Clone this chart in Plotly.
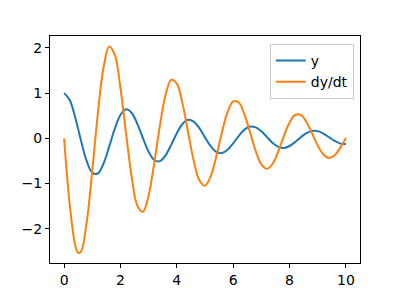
import plotly.graph_objects as go

t = [0.0, 0.2, 0.4, 0.5, 0.6, 0.8, 1.0, 1.2, 1.4, 1.6, 1.8, 2.0, 2.2, 2.4, 2.6, 2.8, 3.0, 3.2, 3.4, 3.6, 3.8,
     4.0, 4.2, 4.4, 4.6, 4.8, 5.0, 5.2, 5.4, 5.6, 5.8, 6.0, 6.2, 6.4, 6.6, 6.8, 7.0, 7.2, 7.4, 7.6, 7.8,
     8.0, 8.2, 8.4, 8.6, 8.8, 9.0, 9.2, 9.4, 9.6, 9.8, 10.0]
y_vals = [1.0, 0.848, 0.450, 0.204, -0.051, -0.498, -0.762, -0.777, -0.556, -0.184, 0.214, 0.517, 0.641,
          0.561, 0.320, 0.000, -0.295, -0.479, -0.504, -0.376, -0.145, 0.113, 0.317, 0.409, 0.371,
          0.224, 0.021, -0.172, -0.300, -0.326, -0.253, -0.109, 0.057, 0.193, 0.260, 0.244, 0.156,
          0.027, -0.100, -0.187, -0.211, -0.169, -0.081, 0.026, 0.117, 0.165, 0.159, 0.107, 0.026,
          -0.057, -0.116, -0.125]
dydt_vals = [0.0, -1.465, -2.379, -2.530, -2.503, -1.864, -0.715, 0.564, 1.570, 2.030, 1.843, 1.113, 0.104,
             -0.858, -1.488, -1.620, -1.256, -0.541, 0.284, 0.957, 1.293, 1.211, 0.773, 0.135, -0.496,
             -0.927, -1.047, -0.841, -0.400, 0.130, 0.578, 0.818, 0.793, 0.531, 0.129, -0.281, -0.576,
             -0.674, -0.562, -0.289, 0.050, 0.348, 0.517, 0.518, 0.363, 0.111, -0.156, -0.356, -0.433,
             -0.374, -0.206, 0.010]
series_names = ["y", "dy/dt"]
x_ticks = [0, 2, 4, 6, 8, 10]
y_ticks = [-2, -1, 0, 1, 2]

fig = go.Figure()
fig.add_trace(go.Scatter(x=t, y=y_vals, mode="lines", name=series_names[0],
                         line=dict(color="#1f77b4", width=2, shape="spline", smoothing=1)))
fig.add_trace(go.Scatter(x=t, y=dydt_vals, mode="lines", name=series_names[1],
                         line=dict(color="#ff7f0e", width=2, shape="spline", smoothing=1)))

axis_common = dict(showgrid=False, zeroline=False, showline=True, linecolor="black", linewidth=1,
                   mirror=True, ticks="outside", ticklen=4, tickwidth=1, tickcolor="black",
                   tickfont=dict(family="DejaVu Sans", size=14, color="black"))
fig.update_xaxes(range=[-0.5, 10.5], tickvals=x_ticks, ticktext=[str(v) for v in x_ticks], **axis_common)
fig.update_yaxes(range=[-2.755, 2.262], tickvals=y_ticks, ticktext=["\u22122", "\u22121", "0", "1", "2"],
                 **axis_common)

fig.update_layout(
    width=400, height=300,
    margin=dict(l=50, r=40, t=36, b=33),
    paper_bgcolor="white", plot_bgcolor="white",
    font=dict(family="DejaVu Sans", size=14, color="black"),
    legend=dict(x=0.98, y=0.965, xanchor="right", yanchor="top",
                bgcolor="rgba(255,255,255,0.8)", bordercolor="#cccccc", borderwidth=1,
                font=dict(family="DejaVu Sans", size=14), itemwidth=30,
                tracegroupgap=0),
    showlegend=True,
)

fig.write_html("out.html")
